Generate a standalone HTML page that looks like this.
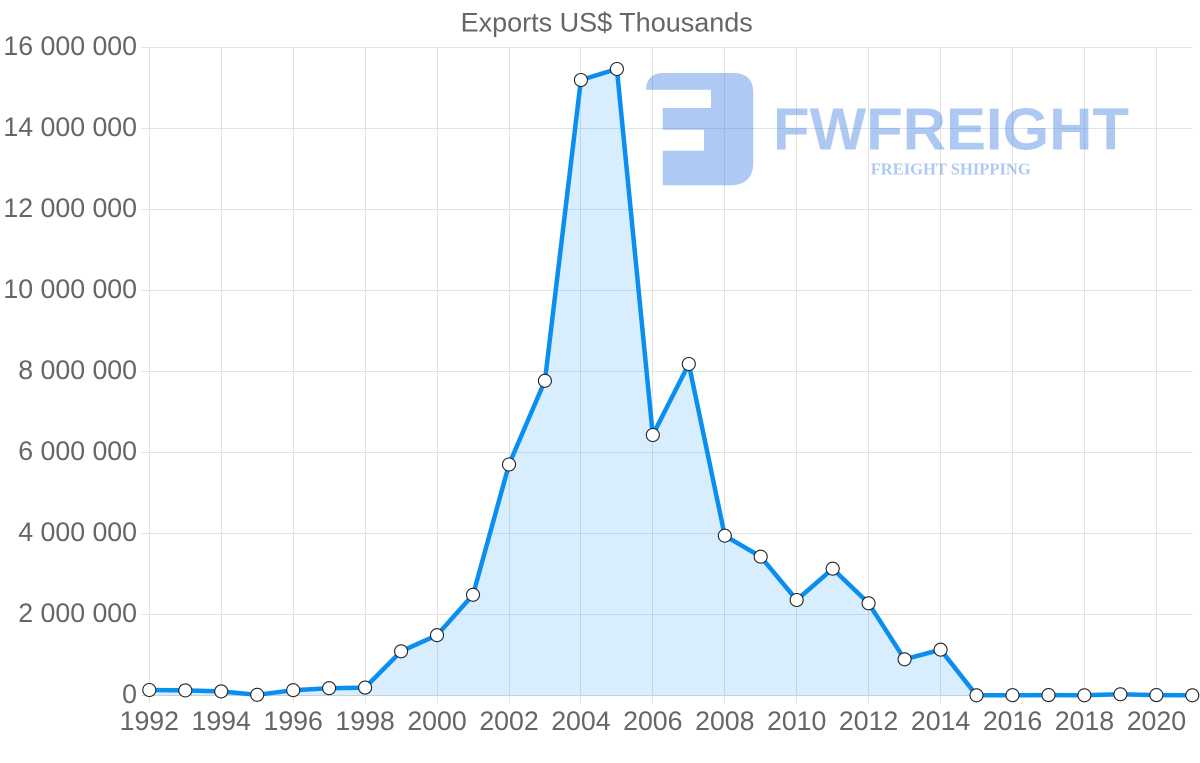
<!DOCTYPE html>
<html>
<head>
<meta charset="utf-8">
<style>
html,body{margin:0;padding:0;background:#fff;}
svg{display:block;}
text{font-family:"Liberation Sans",Arial,sans-serif;}
</style>
</head>
<body>
<svg width="1200" height="763" viewBox="0 0 1200 763" xmlns="http://www.w3.org/2000/svg">
  <rect width="1200" height="763" fill="#fff"/>
  <!-- horizontal gridlines -->
  <g stroke="#e2e2e2" stroke-width="1">
    <line x1="141.5" y1="695.5" x2="1192.5" y2="695.5" stroke="#d6d6d6"/>
    <line x1="141.5" y1="614.5" x2="1192.5" y2="614.5"/>
    <line x1="141.5" y1="533.5" x2="1192.5" y2="533.5"/>
    <line x1="141.5" y1="452.5" x2="1192.5" y2="452.5"/>
    <line x1="141.5" y1="371.5" x2="1192.5" y2="371.5"/>
    <line x1="141.5" y1="290.5" x2="1192.5" y2="290.5"/>
    <line x1="141.5" y1="209.5" x2="1192.5" y2="209.5"/>
    <line x1="141.5" y1="128.5" x2="1192.5" y2="128.5"/>
    <line x1="141.5" y1="47.5" x2="1192.5" y2="47.5"/>
  </g>
  <!-- vertical gridlines -->
  <g stroke="#e2e2e2" stroke-width="1">
    <line x1="149.5" y1="47" x2="149.5" y2="703"/>
    <line x1="221.5" y1="47" x2="221.5" y2="703"/>
    <line x1="293.5" y1="47" x2="293.5" y2="703"/>
    <line x1="365.5" y1="47" x2="365.5" y2="703"/>
    <line x1="437.5" y1="47" x2="437.5" y2="703"/>
    <line x1="509.5" y1="47" x2="509.5" y2="703"/>
    <line x1="580.5" y1="47" x2="580.5" y2="703"/>
    <line x1="652.5" y1="47" x2="652.5" y2="703"/>
    <line x1="724.5" y1="47" x2="724.5" y2="703"/>
    <line x1="796.5" y1="47" x2="796.5" y2="703"/>
    <line x1="868.5" y1="47" x2="868.5" y2="703"/>
    <line x1="940.5" y1="47" x2="940.5" y2="703"/>
    <line x1="1012.5" y1="47" x2="1012.5" y2="703"/>
    <line x1="1084.5" y1="47" x2="1084.5" y2="703"/>
    <line x1="1156.5" y1="47" x2="1156.5" y2="703"/>
  </g>

  <!-- title -->
  <text x="606.7" y="31.5" font-size="27" fill="#666" text-anchor="middle">Exports US$ Thousands</text>

  <!-- y labels -->
  <g font-size="26.7" fill="#666" text-anchor="end">
    <text x="137" y="703">0</text>
    <text x="137" y="622">2 000 000</text>
    <text x="137" y="541">4 000 000</text>
    <text x="137" y="460">6 000 000</text>
    <text x="137" y="379">8 000 000</text>
    <text x="137" y="298">10 000 000</text>
    <text x="137" y="217">12 000 000</text>
    <text x="137" y="136">14 000 000</text>
    <text x="137" y="55">16 000 000</text>
  </g>

  <!-- x labels -->
  <g font-size="26.7" fill="#666" text-anchor="middle">
    <text x="149.3" y="730">1992</text>
    <text x="221.2" y="730">1994</text>
    <text x="293.2" y="730">1996</text>
    <text x="365.1" y="730">1998</text>
    <text x="437.0" y="730">2000</text>
    <text x="509.0" y="730">2002</text>
    <text x="580.9" y="730">2004</text>
    <text x="652.8" y="730">2006</text>
    <text x="724.8" y="730">2008</text>
    <text x="796.7" y="730">2010</text>
    <text x="868.6" y="730">2012</text>
    <text x="940.6" y="730">2014</text>
    <text x="1012.5" y="730">2016</text>
    <text x="1084.4" y="730">2018</text>
    <text x="1156.4" y="730">2020</text>
  </g>

  <!-- area fill -->
  <polygon fill="rgba(10,143,240,0.16)" points="149.3,695.5 149.3,690 185.3,690.4 221.2,691.4 257.2,694.8 293.2,690.2 329.1,688.2 365.1,687.6 401.1,651.3 437.0,635.2 473.0,594.8 509.0,464.5 544.9,380.8 580.9,80 616.9,69 652.8,435 688.8,364 724.8,535.7 760.7,556.7 796.7,600 832.7,568.7 868.6,603.3 904.6,659.3 940.6,649.7 976.5,695.3 1012.5,695.2 1048.5,695.1 1084.4,695.3 1120.4,694.3 1156.4,695.1 1192.3,695.3 1192.3,695.5"/>

  <!-- line -->
  <polyline fill="none" stroke="#0a8ff0" stroke-width="4.5" stroke-linejoin="round" points="149.3,690 185.3,690.4 221.2,691.4 257.2,694.8 293.2,690.2 329.1,688.2 365.1,687.6 401.1,651.3 437.0,635.2 473.0,594.8 509.0,464.5 544.9,380.8 580.9,80 616.9,69 652.8,435 688.8,364 724.8,535.7 760.7,556.7 796.7,600 832.7,568.7 868.6,603.3 904.6,659.3 940.6,649.7 976.5,695.3 1012.5,695.2 1048.5,695.1 1084.4,695.3 1120.4,694.3 1156.4,695.1 1192.3,695.3"/>

  <!-- points -->
  <g fill="#fff" stroke="#222" stroke-width="1.1">
    <circle cx="149.3" cy="690" r="6.5"/>
    <circle cx="185.3" cy="690.4" r="6.5"/>
    <circle cx="221.2" cy="691.4" r="6.5"/>
    <circle cx="257.2" cy="694.8" r="6.5"/>
    <circle cx="293.2" cy="690.2" r="6.5"/>
    <circle cx="329.1" cy="688.2" r="6.5"/>
    <circle cx="365.1" cy="687.6" r="6.5"/>
    <circle cx="401.1" cy="651.3" r="6.5"/>
    <circle cx="437.0" cy="635.2" r="6.5"/>
    <circle cx="473.0" cy="594.8" r="6.5"/>
    <circle cx="509.0" cy="464.5" r="6.5"/>
    <circle cx="544.9" cy="380.8" r="6.5"/>
    <circle cx="580.9" cy="80" r="6.5"/>
    <circle cx="616.9" cy="69" r="6.5"/>
    <circle cx="652.8" cy="435" r="6.5"/>
    <circle cx="688.8" cy="364" r="6.5"/>
    <circle cx="724.8" cy="535.7" r="6.5"/>
    <circle cx="760.7" cy="556.7" r="6.5"/>
    <circle cx="796.7" cy="600" r="6.5"/>
    <circle cx="832.7" cy="568.7" r="6.5"/>
    <circle cx="868.6" cy="603.3" r="6.5"/>
    <circle cx="904.6" cy="659.3" r="6.5"/>
    <circle cx="940.6" cy="649.7" r="6.5"/>
    <circle cx="976.5" cy="695.3" r="6.5"/>
    <circle cx="1012.5" cy="695.2" r="6.5"/>
    <circle cx="1048.5" cy="695.1" r="6.5"/>
    <circle cx="1084.4" cy="695.3" r="6.5"/>
    <circle cx="1120.4" cy="694.3" r="6.5"/>
    <circle cx="1156.4" cy="695.1" r="6.5"/>
    <circle cx="1192.3" cy="695.3" r="6.5"/>
  </g>

  <!-- watermark logo -->
  <g opacity="0.42" fill="#3f7fe0">
    <path d="M646,89.7 Q647,73 663,73 L733,73 Q753.3,73 753.3,93 L753.3,162 Q753.3,185.3 730,185.3 L662.7,185.3 L662.7,150.7 L704,150.7 L704,129.7 L662.7,129.7 L662.7,108 L711,108 L711,89.7 Z"/>
    <text x="773" y="149.3" font-size="59.5" font-weight="bold" textLength="356" lengthAdjust="spacingAndGlyphs">FWFREIGHT</text>
    <text x="870.7" y="174.3" font-size="17" font-weight="bold" style="font-family:'Liberation Serif',serif" textLength="160" lengthAdjust="spacingAndGlyphs">FREIGHT SHIPPING</text>
  </g>
</svg>
</body>
</html>
